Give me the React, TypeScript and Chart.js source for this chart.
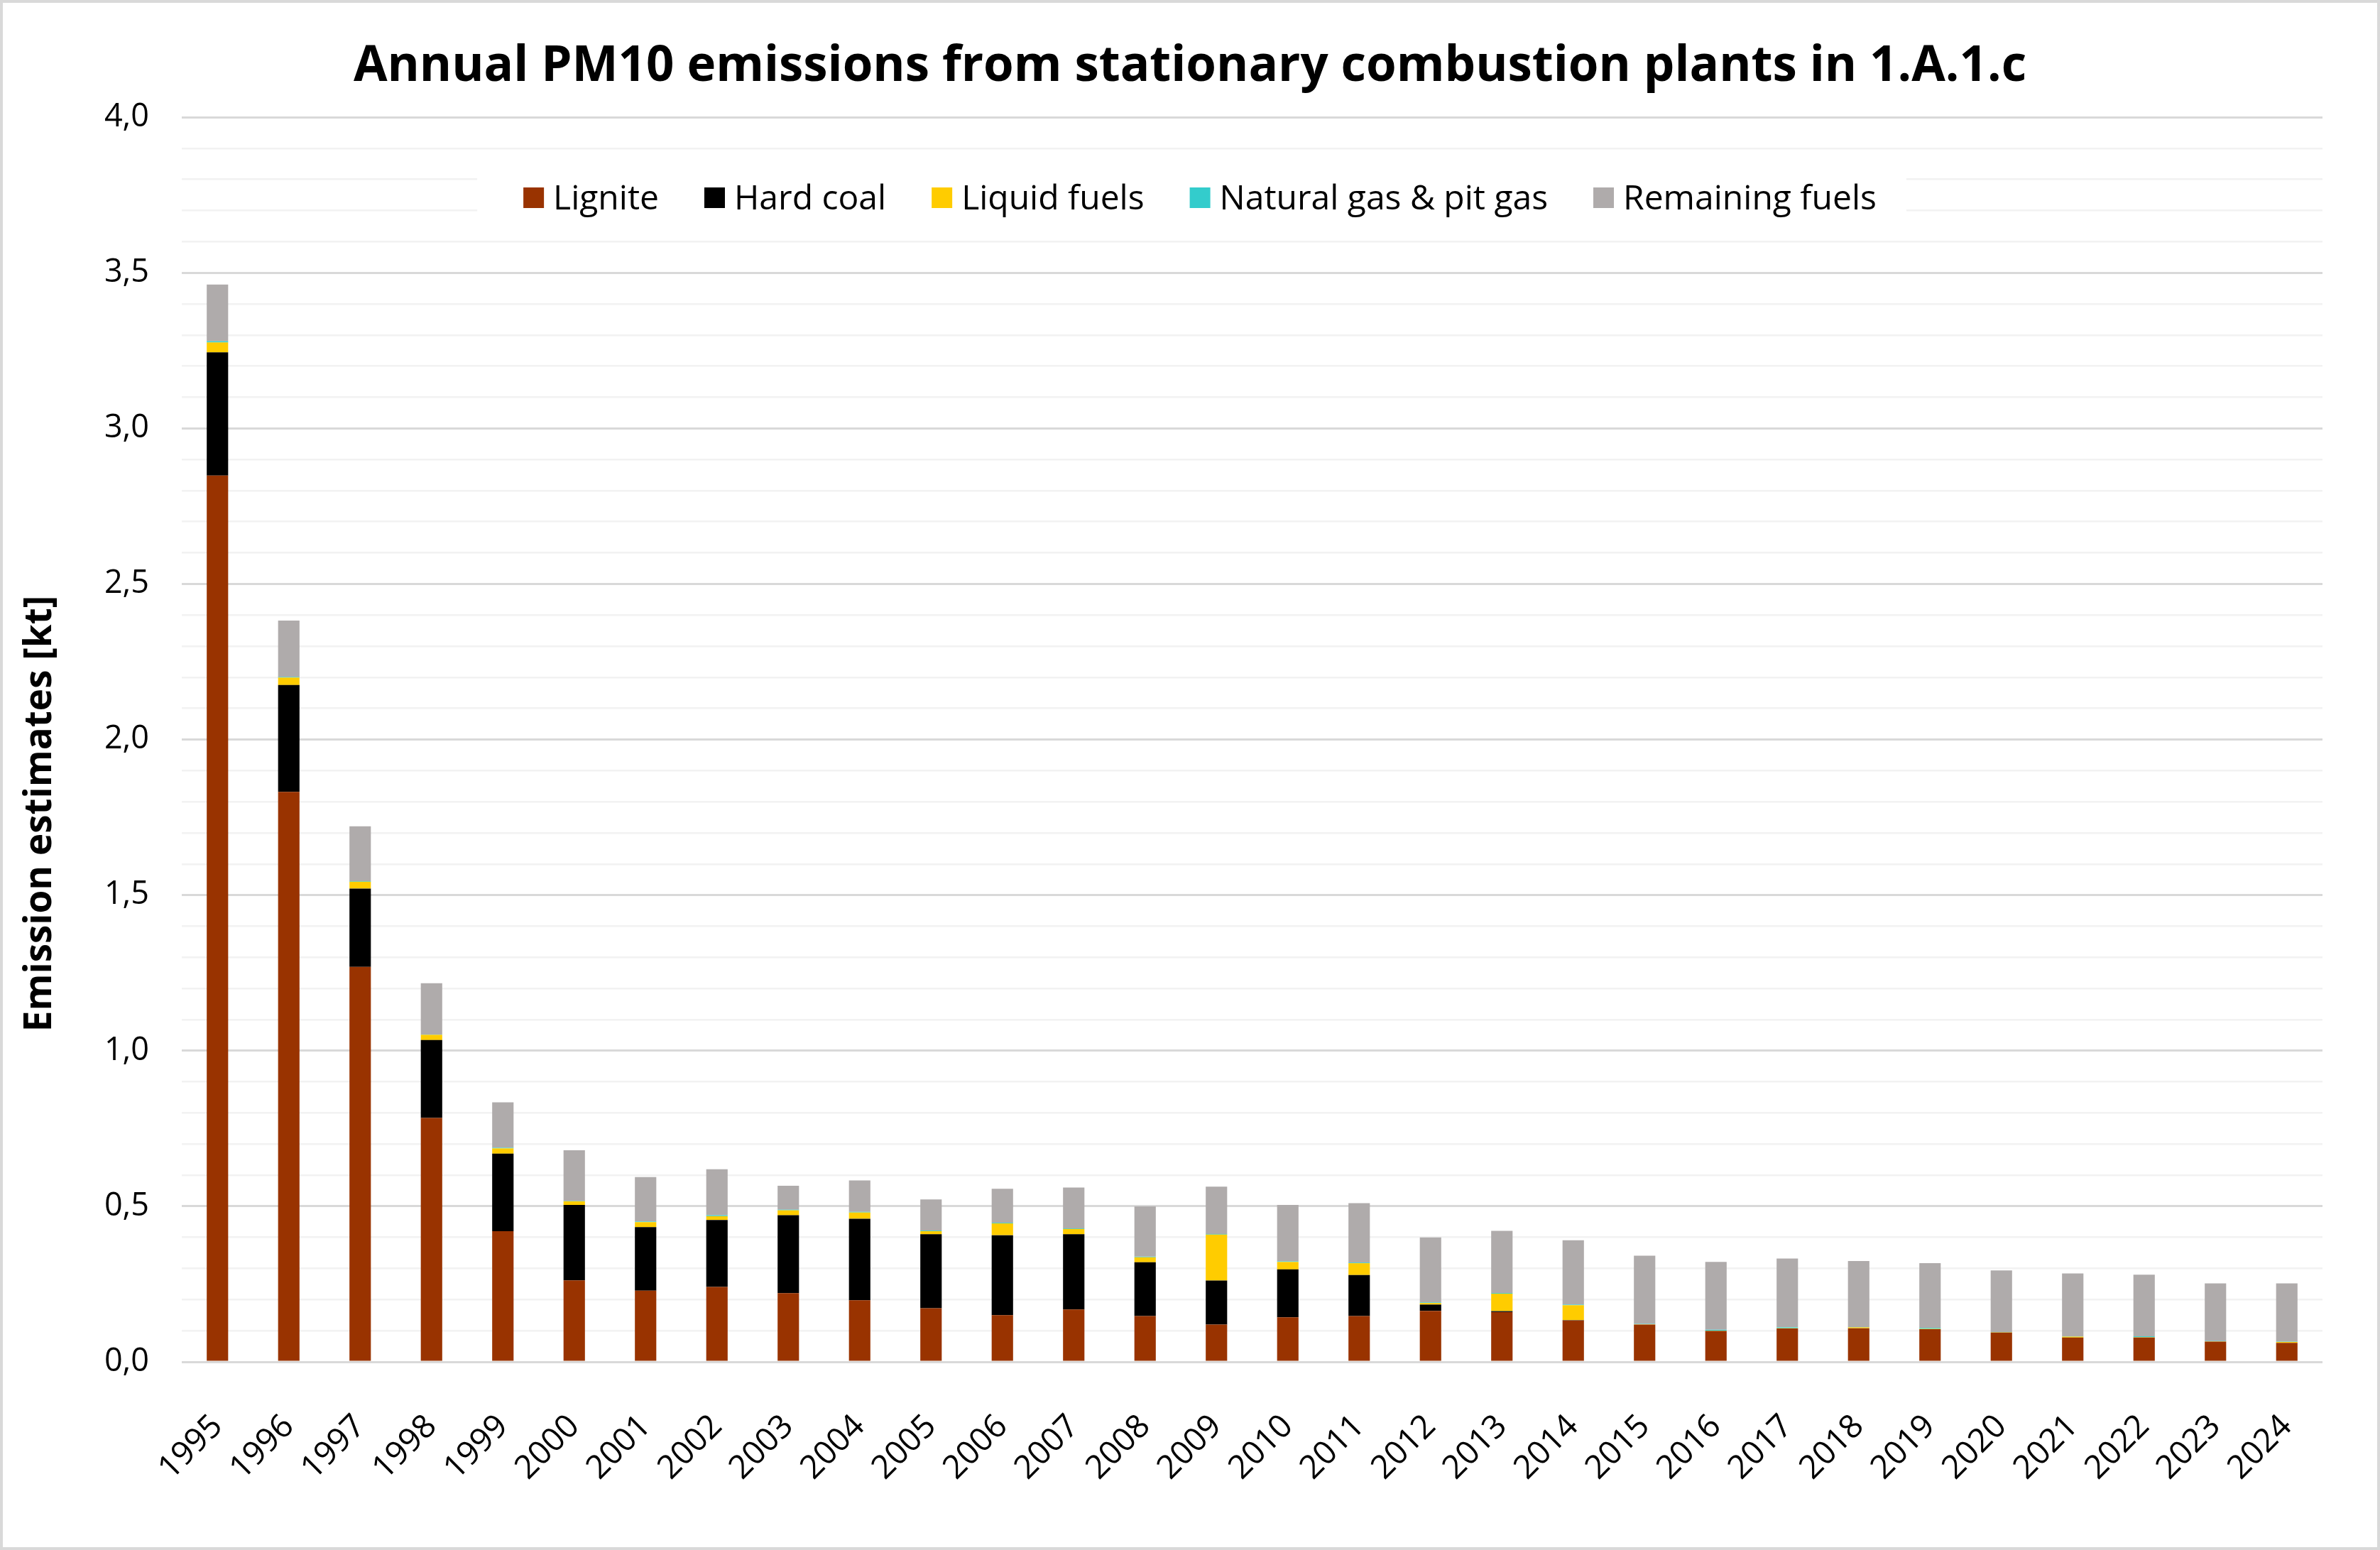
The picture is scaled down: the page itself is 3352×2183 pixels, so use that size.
import React, { useEffect, useRef } from 'react';
import { Chart, registerables } from 'chart.js';

Chart.register(...registerables);

const years = ['1995','1996','1997','1998','1999','2000','2001','2002','2003','2004','2005','2006','2007','2008','2009','2010','2011','2012','2013','2014','2015','2016','2017','2018','2019','2020','2021','2022','2023','2024'];

const lignite = [2.848,1.832,1.269,0.784,0.420,0.262,0.229,0.241,0.221,0.198,0.172,0.150,0.168,0.147,0.120,0.143,0.147,0.164,0.160,0.133,0.120,0.099,0.107,0.108,0.105,0.094,0.078,0.078,0.065,0.061];
const hardCoal = [0.396,0.343,0.252,0.250,0.249,0.242,0.204,0.215,0.250,0.262,0.238,0.257,0.242,0.173,0.141,0.154,0.132,0.020,0.003,0.001,0,0,0,0,0,0,0,0,0,0];
const liquidFuels = [0.032,0.024,0.022,0.017,0.017,0.012,0.016,0.012,0.016,0.020,0.010,0.038,0.017,0.016,0.148,0.024,0.038,0.005,0.056,0.048,0.001,0.001,0.001,0.003,0.001,0.001,0.003,0.001,0.001,0.003];
const naturalGas = [0.004,0.002,0.002,0.001,0.002,0.001,0.002,0.003,0.002,0.002,0.002,0.002,0.002,0.002,0.002,0.002,0.002,0.002,0.002,0.002,0.001,0.003,0.003,0.001,0.003,0.001,0.001,0.003,0.001,0.001];
const remainingFuels = [0.182,0.181,0.176,0.165,0.146,0.163,0.143,0.148,0.077,0.101,0.100,0.109,0.131,0.162,0.152,0.181,0.191,0.209,0.200,0.207,0.219,0.218,0.221,0.212,0.208,0.198,0.202,0.198,0.185,0.187];

const seriesNames = ['Lignite', 'Hard coal', 'Liquid fuels', 'Natural gas & pit gas', 'Remaining fuels'];
const seriesColors = ['#993300', '#000000', '#FFCC00', '#33CCCC', '#AFABAB'];
const seriesValues = [lignite, hardCoal, liquidFuels, naturalGas, remainingFuels];

const titleText = 'Annual PM10 emissions from stationary combustion plants in 1.A.1.c';
const yAxisTitle = 'Emission estimates [kt]';

const W = 3352;
const H = 2183;
const FONT = '"Open Sans", sans-serif';

const isMajor = (v: number) => Math.abs(v * 2 - Math.round(v * 2)) < 1e-6;

const decorPlugin = {
  id: 'decor',
  beforeDraw(chart: any) {
    const ctx = chart.ctx;
    ctx.save();
    ctx.fillStyle = '#ffffff';
    ctx.fillRect(0, 0, chart.width, chart.height);
    ctx.restore();
  },
  afterDraw(chart: any) {
    const ctx = chart.ctx;
    ctx.save();
    // outer border
    ctx.strokeStyle = '#D9D9D9';
    ctx.lineWidth = 4;
    ctx.strokeRect(2, 2, chart.width - 4, chart.height - 4);

    // title
    ctx.fillStyle = '#000000';
    ctx.font = `bold 69px ${FONT}`;
    ctx.textAlign = 'center';
    ctx.textBaseline = 'alphabetic';
    ctx.fillText(titleText, 1676, 114);

    // y axis title
    ctx.save();
    ctx.translate(57, 1146);
    ctx.rotate(-Math.PI / 2);
    ctx.font = `bold 53px ${FONT}`;
    ctx.textAlign = 'center';
    ctx.textBaseline = 'middle';
    ctx.fillText(yAxisTitle, 0, 0);
    ctx.restore();

    // legend
    ctx.font = `48px ${FONT}`;
    const sq = 29;
    const gap = 13;
    const spacing = 64;
    const widths = chart.data.datasets.map((d: any) => ctx.measureText(d.label).width);
    let total = 0;
    widths.forEach((w: number, i: number) => {
      total += sq + gap + w + (i < widths.length - 1 ? spacing : 0);
    });
    const start = 1690 - total / 2;
    const end = start + total;
    ctx.fillStyle = '#ffffff';
    ctx.fillRect(start - 65, 226, end - start + 107, 104);
    let x = start;
    ctx.textAlign = 'left';
    ctx.textBaseline = 'alphabetic';
    chart.data.datasets.forEach((d: any, i: number) => {
      ctx.fillStyle = d.backgroundColor;
      ctx.fillRect(x, 264, sq, sq);
      ctx.fillStyle = '#000000';
      ctx.fillText(d.label, x + sq + gap, 295);
      x += sq + gap + widths[i] + spacing;
    });
    ctx.restore();
  },
};

export default function App() {
  const ref = useRef<HTMLCanvasElement | null>(null);

  useEffect(() => {
    document.body.style.margin = '0';
    document.body.style.overflow = 'hidden';
    let chart: Chart | null = null;
    let cancelled = false;
    const make = () => {
      if (cancelled || !ref.current) return;
      chart = new Chart(ref.current, {
        type: 'bar',
        data: {
          labels: years,
          datasets: seriesNames.map((name, i) => ({
            label: name,
            data: seriesValues[i],
            backgroundColor: seriesColors[i],
            borderWidth: 0,
            barPercentage: 0.3,
            categoryPercentage: 1,
          })),
        },
        options: {
          animation: false,
          responsive: false,
          devicePixelRatio: 1,
          layout: { padding: { top: 165, right: 81, left: 0, bottom: 0 } },
          plugins: {
            legend: { display: false },
            title: { display: false },
            tooltip: { enabled: false },
          },
          scales: {
            x: {
              stacked: true,
              grid: { display: false },
              border: { display: false },
              ticks: {
                autoSkip: false,
                maxRotation: 45,
                minRotation: 45,
                padding: 56,
                color: '#000000',
                font: { family: FONT, size: 46 },
              },
              afterFit: (s: any) => { s.height = 265; },
            },
            y: {
              stacked: true,
              min: 0,
              max: 4,
              border: { display: false },
              grid: {
                drawTicks: false,
                color: (c: any) => (isMajor(c.tick.value) ? '#D9D9D9' : '#F2F2F2'),
                lineWidth: (c: any) => (isMajor(c.tick.value) ? 3 : 2.5),
              },
              ticks: {
                stepSize: 0.1,
                autoSkip: false,
                padding: 46,
                color: '#000000',
                font: { family: FONT, size: 45 },
                callback: (v: any) => (isMajor(Number(v)) ? Number(v).toFixed(1).replace('.', ',') : ''),
              },
              afterFit: (s: any) => { s.width = 256; },
            },
          },
        },
        plugins: [decorPlugin],
      } as any);
    };
    if ((document as any).fonts && (document as any).fonts.load) {
      Promise.all([
        (document as any).fonts.load(`45px "Open Sans"`),
        (document as any).fonts.load(`bold 45px "Open Sans"`),
      ]).then(make, make);
    } else {
      make();
    }
    return () => {
      cancelled = true;
      if (chart) chart.destroy();
    };
  }, []);

  return <canvas ref={ref} width={W} height={H} style={{ display: 'block' }} />;
}
